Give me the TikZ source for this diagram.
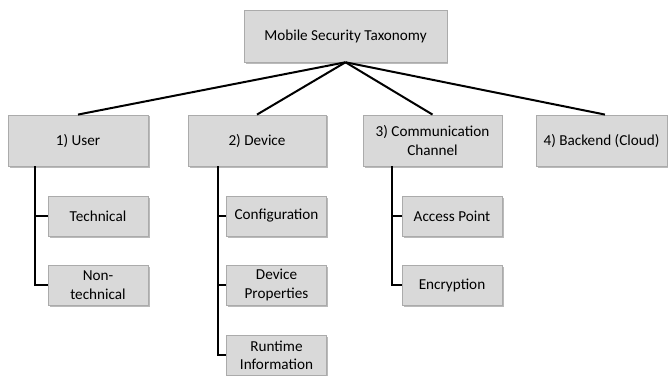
\documentclass[tikz,border=0pt]{standalone}
\usepackage{fontspec}
\setmainfont{Carlito}
\usetikzlibrary{shadows}

\definecolor{boxfill}{HTML}{D9D9D9}
\definecolor{boxline}{HTML}{ABABAB}

\tikzset{
    box/.style={draw=boxline, fill=boxfill, align=center, inner sep=0pt,
        font=\fontsize{11.4}{13.8}\selectfont,
        drop shadow={shadow xshift=1.2pt, shadow yshift=-1.2pt, fill=black!45, opacity=0.6}},
    topbox/.style={box, minimum height=38.5pt},
    subbox/.style={box, minimum width=75pt, minimum height=30pt},
    link/.style={draw=black, line width=1.5pt}
}

\begin{document}
\begin{tikzpicture}[x=0.75pt, y=-0.75pt]
    \useasboundingbox (0,0) rectangle (670,375);

    % Wurzel
    \node[box, minimum width=152pt, minimum height=39pt] (root) at (345.5,36) {Mobile Security Taxonomy};

    % erste Ebene
    \node[topbox, minimum width=105pt] (user) at (78,140.5) {1) User};
    \node[topbox, minimum width=103.5pt] (device) at (257,140.5) {2) Device};
    \node[topbox, minimum width=104pt] (comm) at (432.5,140.5) {3) Communication\\Channel};
    \node[topbox, minimum width=98pt] (backend) at (601.5,140.5) {4) Backend (Cloud)};

    % zweite Ebene
    \node[subbox] (tech) at (98,216) {Technical};
    \node[subbox] (nontech) at (98,285) {Non-\\technical};
    \node[subbox] (config) at (276.5,216) {Configuration};
    \node[subbox] (props) at (276.5,285) {Device\\Properties};
    \node[subbox] (runtime) at (276.5,355) {Runtime\\Information};
    \node[subbox] (access) at (452,216) {Access Point};
    \node[subbox] (crypt) at (452,285) {Encryption};

    % Verbindungen von der Wurzel
    \draw[link] (root.south) -- (user.north);
    \draw[link] (root.south) -- (device.north);
    \draw[link] (root.south) -- (comm.north);
    \draw[link] (root.south) -- ([xshift=2.6pt]backend.north);

    % Baumlinien
    \coordinate (userbus) at (35,166);
    \coordinate (devbus) at (218,166);
    \coordinate (commbus) at (392,166);
    \draw[link] (userbus) |- (tech.west);
    \draw[link] (userbus) |- (nontech.west);
    \draw[link] (devbus) |- (config.west);
    \draw[link] (devbus) |- (props.west);
    \draw[link] (devbus) |- (runtime.west);
    \draw[link] (commbus) |- (access.west);
    \draw[link] (commbus) |- (crypt.west);
\end{tikzpicture}
\end{document}
